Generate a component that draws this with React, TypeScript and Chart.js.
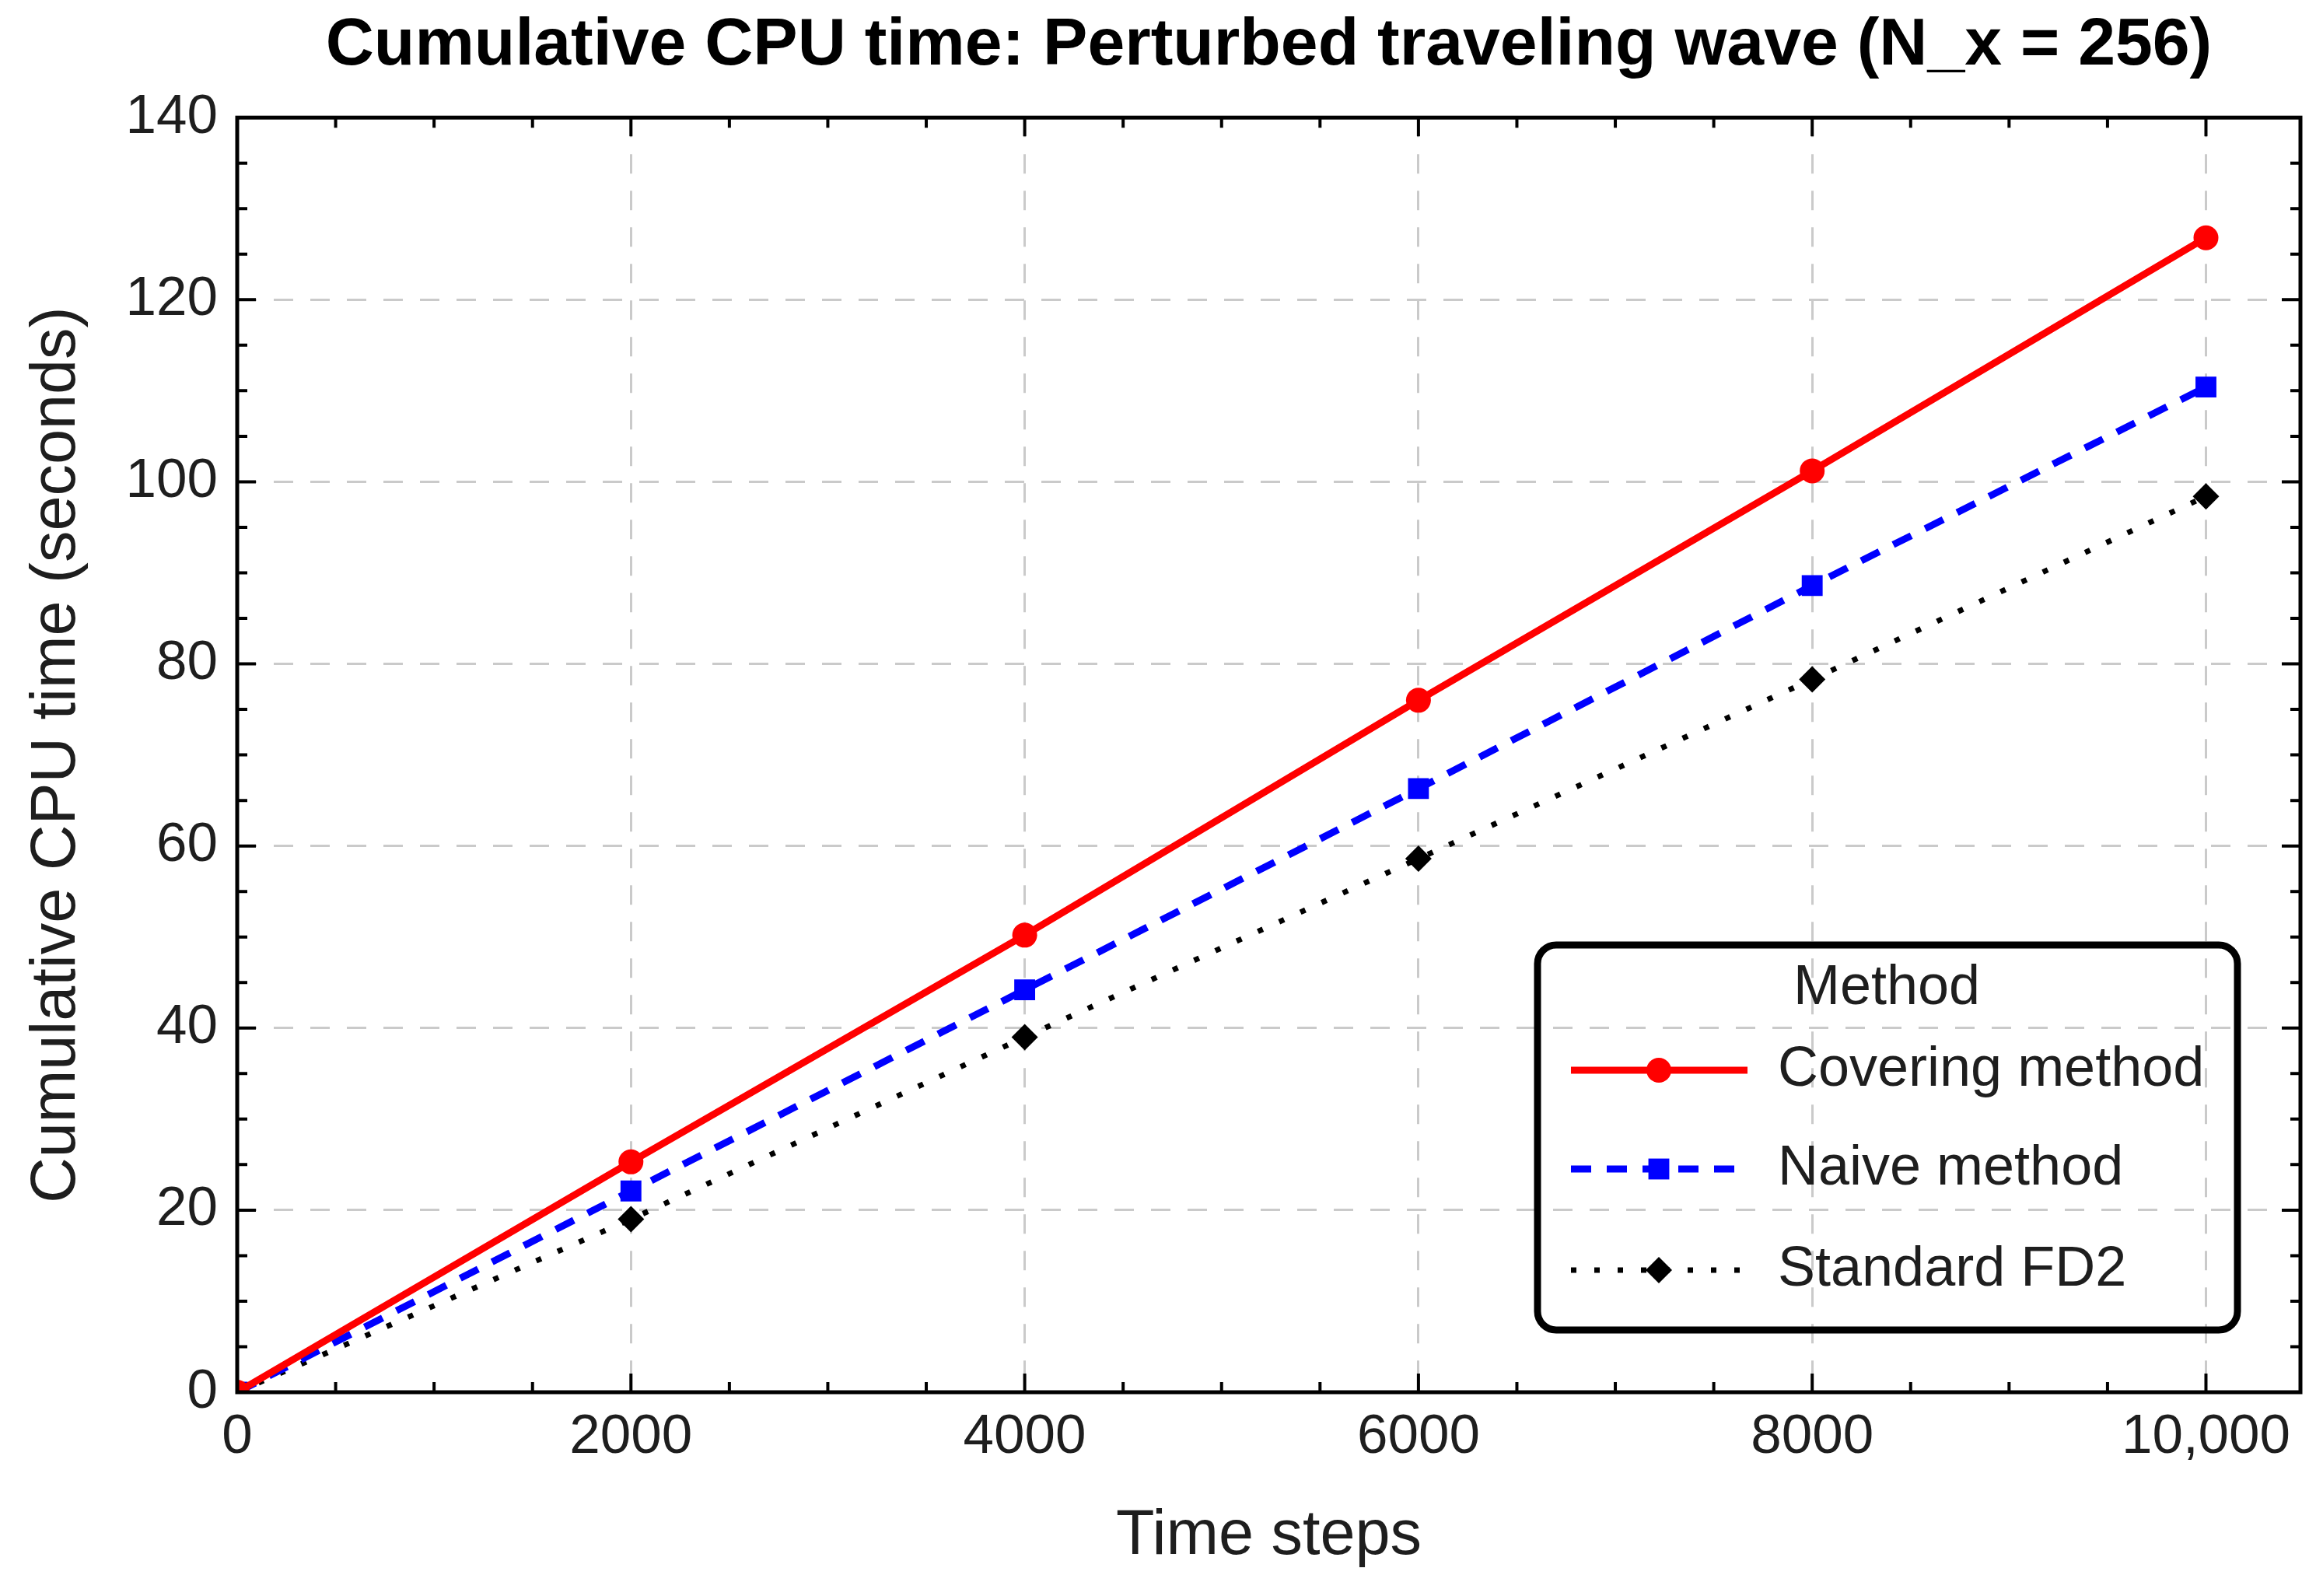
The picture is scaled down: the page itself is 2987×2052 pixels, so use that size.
import { useEffect, useRef } from "react"
import { Chart, registerables } from "chart.js"
import type { Plugin } from "chart.js"
import * as helpers from "chart.js/helpers"

Chart.register(...registerables)

const timeSteps = [0, 2000, 4000, 6000, 8000, 10000]
const coveringMethod = [0, 25.3, 50.2, 76.0, 101.2, 126.8]
const naiveMethod = [0, 22.1, 44.2, 66.3, 88.6, 110.4]
const standardFD2 = [0, 19.0, 39.0, 58.6, 78.3, 98.4]

const xTickValues = [0, 2000, 4000, 6000, 8000, 10000]
const xTickLabels = ["0", "2000", "4000", "6000", "8000", "10,000"]
const yTickValues = [0, 20, 40, 60, 80, 100, 120, 140]
const yTickLabels = ["0", "20", "40", "60", "80", "100", "120", "140"]

const X_MAX = 10480
const X_MINOR = 500
const Y_MINOR = 5

const FONT = "'Liberation Sans', Arial, sans-serif"
const TEXT = "#1e1e1e"

const pairs = (ys: number[]) => timeSteps.map((x, i) => ({ x, y: ys[i] }))

// Mathematica-style frame: thick box with inward major and minor ticks on all sides
const framePlugin: Plugin<"line"> = {
  id: "frame",
  afterDatasetsDraw(chart) {
    const { ctx, chartArea } = chart
    const { left, right, top, bottom } = chartArea
    const xs = chart.scales.x
    const ys = chart.scales.y
    ctx.save()
    ctx.strokeStyle = "#000"
    ctx.lineWidth = 4
    ctx.lineCap = "butt"
    const major = 24
    const minor = 13
    for (let v = X_MINOR; v < X_MAX; v += X_MINOR) {
      const px = xs.getPixelForValue(v)
      const len = xTickValues.includes(v) ? major : minor
      ctx.beginPath()
      ctx.moveTo(px, bottom)
      ctx.lineTo(px, bottom - len)
      ctx.moveTo(px, top)
      ctx.lineTo(px, top + len)
      ctx.stroke()
    }
    for (let v = Y_MINOR; v < 140; v += Y_MINOR) {
      const py = ys.getPixelForValue(v)
      const len = yTickValues.includes(v) ? major : minor
      ctx.beginPath()
      ctx.moveTo(left, py)
      ctx.lineTo(left + len, py)
      ctx.moveTo(right, py)
      ctx.lineTo(right - len, py)
      ctx.stroke()
    }
    ctx.lineWidth = 5
    ctx.strokeRect(left, top, right - left, bottom - top)
    ctx.restore()
  },
}

const legendPlugin: Plugin<"line"> = {
  id: "methodLegend",
  afterDraw(chart) {
    const { ctx } = chart
    const boxL = 1977
    const boxT = 1215
    const boxR = 2877
    const boxB = 1710
    const rows = [1376, 1503, 1633]
    ctx.save()
    ctx.lineWidth = 9
    ctx.strokeStyle = "#000"
    ctx.beginPath()
    ctx.roundRect(boxL, boxT, boxR - boxL, boxB - boxT, 24)
    ctx.stroke()

    ctx.fillStyle = TEXT
    ctx.font = `72px ${FONT}`
    ctx.textAlign = "center"
    ctx.textBaseline = "middle"
    ctx.fillText("Method", 2426, 1271)

    chart.data.datasets.forEach((ds: any, i) => {
      const y = rows[i]
      ctx.save()
      ctx.strokeStyle = ds.borderColor
      ctx.lineWidth = ds.borderWidth
      ctx.setLineDash(ds.borderDash || [])
      ctx.beginPath()
      ctx.moveTo(2020, y)
      ctx.lineTo(2247, y)
      ctx.stroke()
      ctx.setLineDash([])
      ctx.fillStyle = ds.backgroundColor
      helpers.drawPoint(
        ctx,
        { pointStyle: ds.pointStyle, radius: ds.pointRadius, rotation: 0, borderWidth: 0 },
        2133,
        y
      )
      ctx.restore()
      ctx.fillStyle = TEXT
      ctx.font = `72px ${FONT}`
      ctx.textAlign = "left"
      ctx.textBaseline = "middle"
      ctx.fillText(ds.label, 2286, y)
    })
    ctx.restore()
  },
}

export default function App() {
  const canvasRef = useRef<HTMLCanvasElement>(null)
  const chartRef = useRef<Chart | null>(null)

  useEffect(() => {
    if (!canvasRef.current) return
    if (chartRef.current) chartRef.current.destroy()

    chartRef.current = new Chart(canvasRef.current, {
      type: "line",
      data: {
        datasets: [
          {
            label: "Covering method",
            data: pairs(coveringMethod),
            borderColor: "#ff0000",
            backgroundColor: "#ff0000",
            borderWidth: 9,
            pointStyle: "circle",
            pointRadius: 16,
            pointBorderWidth: 0,
            tension: 0,
          },
          {
            label: "Naive method",
            data: pairs(naiveMethod),
            borderColor: "#0000ff",
            backgroundColor: "#0000ff",
            borderWidth: 9,
            borderDash: [26, 20],
            pointStyle: "rect",
            pointRadius: 19,
            pointBorderWidth: 0,
            tension: 0,
          },
          {
            label: "Standard FD2",
            data: pairs(standardFD2),
            borderColor: "#000000",
            backgroundColor: "#000000",
            borderWidth: 7,
            borderDash: [7, 23],
            pointStyle: "rectRot",
            pointRadius: 17,
            pointBorderWidth: 0,
            tension: 0,
          },
        ],
      },
      options: {
        animation: false,
        responsive: true,
        maintainAspectRatio: false,
        devicePixelRatio: 1,
        layout: { padding: { left: 0, right: 29, top: 0, bottom: 0 } },
        plugins: {
          legend: { display: false },
          tooltip: { enabled: false },
          title: {
            display: true,
            fullSize: false,
            text: "Cumulative CPU time: Perturbed traveling wave (N_x = 256)",
            color: "#000",
            font: { family: FONT, size: 86, weight: "bold" },
            padding: { top: 8, bottom: 40 },
          },
        },
        scales: {
          x: {
            type: "linear",
            min: 0,
            max: X_MAX,
            afterBuildTicks: (s: any) => {
              s.ticks = xTickValues.map((value) => ({ value }))
            },
            afterFit: (s: any) => {
              s.height = 262
            },
            ticks: {
              autoSkip: false,
              maxRotation: 0,
              padding: 16,
              color: TEXT,
              font: { family: FONT, size: 71 },
              callback: (v: any) => xTickLabels[xTickValues.indexOf(Number(v))] ?? "",
            },
            grid: { color: "#cacaca", lineWidth: 3, drawTicks: false },
            border: { display: false, dash: [25, 22] },
            title: {
              display: true,
              text: "Time steps",
              color: TEXT,
              font: { family: FONT, size: 81 },
              padding: { top: 0, bottom: 28 },
            },
          },
          y: {
            type: "linear",
            min: 0,
            max: 140,
            afterBuildTicks: (s: any) => {
              s.ticks = yTickValues.map((value) => ({ value }))
            },
            afterFit: (s: any) => {
              s.width = 305
            },
            ticks: {
              autoSkip: false,
              padding: 25,
              color: TEXT,
              font: { family: FONT, size: 71 },
              callback: (v: any) => yTickLabels[yTickValues.indexOf(Number(v))] ?? "",
            },
            grid: { color: "#cacaca", lineWidth: 3, drawTicks: false },
            border: { display: false, dash: [25, 22] },
            title: {
              display: true,
              text: "Cumulative CPU time (seconds)",
              color: TEXT,
              font: { family: FONT, size: 81 },
              padding: { top: 25, bottom: 0 },
            },
          },
        },
      },
      plugins: [framePlugin, legendPlugin],
    })

    return () => {
      if (chartRef.current) chartRef.current.destroy()
      chartRef.current = null
    }
  }, [])

  return (
    <div style={{ position: "absolute", left: 0, top: 0, width: 2987, height: 2052, background: "#fff" }}>
      <canvas ref={canvasRef} />
    </div>
  )
}
